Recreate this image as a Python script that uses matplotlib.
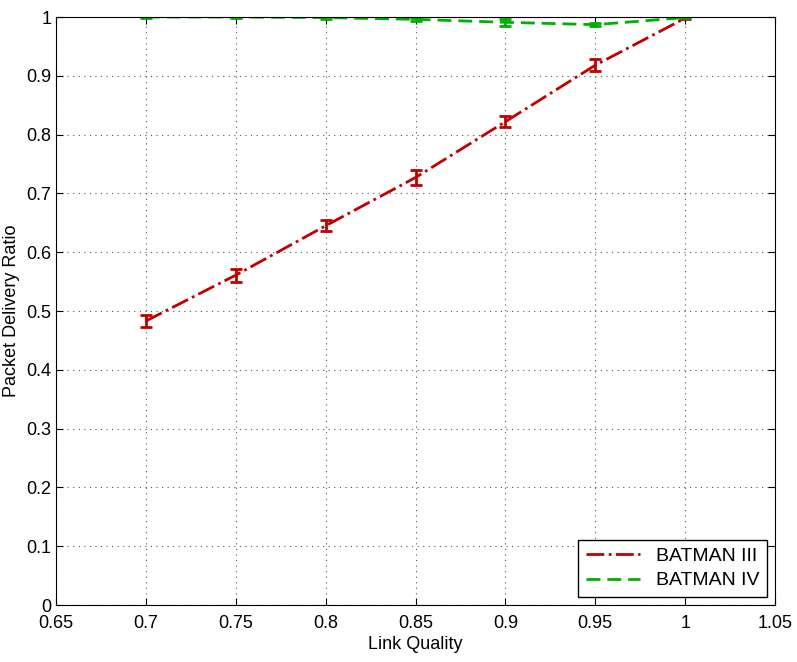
import matplotlib
matplotlib.use("Agg")
import matplotlib.pyplot as plt
from matplotlib.lines import Line2D

plt.rcParams['font.family'] = ['Liberation Sans Narrow', 'Liberation Sans', 'DejaVu Sans']

link_quality = [0.7, 0.75, 0.8, 0.85, 0.9, 0.95, 1.0]
pdr_batman3 = [0.483, 0.561, 0.645, 0.727, 0.822, 0.918, 0.998]
err_batman3 = [0.010, 0.011, 0.009, 0.013, 0.009, 0.010, 0.002]
pdr_batman4 = [1.0, 1.0, 0.999, 0.996, 0.991, 0.987, 0.999]
err_batman4 = [0.002, 0.001, 0.002, 0.002, 0.006, 0.003, 0.001]

red = '#c00000'
green = '#00b000'
dash_style = (0, (5, 2.5))

fig = plt.figure(figsize=(7.97, 6.62), dpi=100)
ax = fig.add_axes([0.0703, 0.0861, 0.9021, 0.8882])

ax.errorbar(link_quality, pdr_batman3, yerr=err_batman3, color=red,
            linestyle='-.', linewidth=2, capsize=4, elinewidth=2, capthick=2)
ax.errorbar(link_quality, pdr_batman4, yerr=err_batman4, color=green,
            linestyle=dash_style, linewidth=2, capsize=4, elinewidth=2, capthick=2)

ax.set_xlim(0.65, 1.05)
ax.set_ylim(0, 1)
ax.set_xticks([0.65, 0.7, 0.75, 0.8, 0.85, 0.9, 0.95, 1.0, 1.05])
ax.set_xticklabels(['0.65', '0.7', '0.75', '0.8', '0.85', '0.9', '0.95', '1', '1.05'])
ax.set_yticks([i / 10 for i in range(11)])
ax.set_yticklabels(['0', '0.1', '0.2', '0.3', '0.4', '0.5', '0.6', '0.7', '0.8', '0.9', '1'])
ax.tick_params(direction='in', top=True, right=True, labelsize=13, length=5)
ax.tick_params(axis='x', pad=7)
ax.grid(True, linestyle=(0, (1, 4)), color='#555555', linewidth=0.8)

ax.set_xlabel('Link Quality', fontsize=13, labelpad=3)
ax.set_ylabel('Packet Delivery Ratio', fontsize=13, labelpad=4)

# legend shows plain lines, no error bar glyphs
handles = [Line2D([], [], color=red, linestyle='-.', linewidth=2),
           Line2D([], [], color=green, linestyle=dash_style, linewidth=2)]
leg = ax.legend(handles, ['BATMAN III', 'BATMAN IV'], loc='lower right', fontsize=14,
                fancybox=False, edgecolor='black', framealpha=1, borderaxespad=0.4,
                handlelength=2.8, borderpad=0.4, labelspacing=0.35)
leg.get_frame().set_linewidth(1)

fig.savefig('out.png', dpi=100)
